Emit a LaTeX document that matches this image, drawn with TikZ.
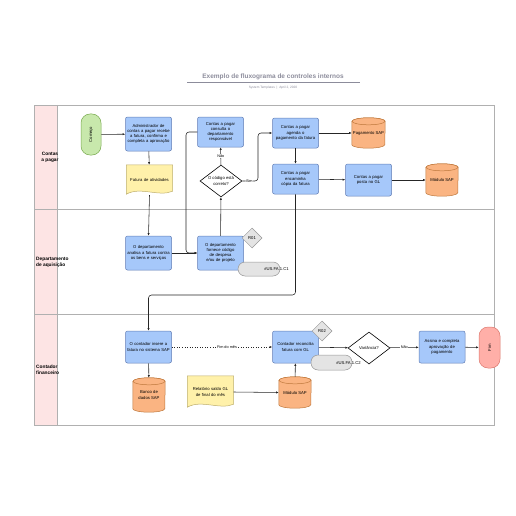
\documentclass[tikz,border=0pt]{standalone}
\usepackage{fontspec}
\setmainfont{Liberation Sans}
\usetikzlibrary{arrows.meta,backgrounds,calc,shapes.geometric}
\hyphenpenalty=10000
\exhyphenpenalty=10000
\definecolor{lanepink}{RGB}{253,228,228}
\definecolor{laneborder}{RGB}{176,176,176}
\definecolor{bluefill}{RGB}{166,200,250}
\definecolor{blueline}{RGB}{96,124,180}
\definecolor{greenfill}{RGB}{200,232,172}
\definecolor{greenline}{RGB}{122,170,80}
\definecolor{docfill}{RGB}{255,241,170}
\definecolor{docline}{RGB}{190,175,110}
\definecolor{cylfillc}{RGB}{250,180,130}
\definecolor{cylline}{RGB}{190,120,60}
\definecolor{endfill}{RGB}{255,175,168}
\definecolor{endline}{RGB}{220,120,110}
\definecolor{tagfill}{RGB}{228,228,228}
\definecolor{tagline}{RGB}{150,150,150}
\definecolor{titlegray}{RGB}{140,140,155}
\tikzset{
  every node/.style={font=\fontsize{4.2}{5.1}\selectfont, inner sep=1pt},
  proc/.style={draw=blueline, fill=bluefill, rounded corners=2pt, line width=0.5pt,
    minimum width=45pt, minimum height=32pt, text width=44pt, align=center},
  term/.style={draw=greenline, fill=greenfill, rounded corners=9pt, line width=0.5pt,
    minimum width=20pt, minimum height=41pt},
  endterm/.style={draw=endline, fill=endfill, rounded corners=9pt, line width=0.5pt,
    minimum width=21pt, minimum height=41pt},
  dec/.style={diamond, draw=black, fill=white, line width=0.6pt, aspect=1.35,
    minimum width=42pt, minimum height=32pt, inner sep=0pt, align=center},
  risk/.style={diamond, draw=tagline, fill=tagfill, line width=0.5pt,
    minimum width=20pt, minimum height=20pt, inner sep=0pt},
  tagbox/.style={draw=tagline, fill=tagfill, rounded corners=7pt, line width=0.5pt,
    minimum width=42pt, minimum height=14pt},
  txt/.style={align=center, text width=44pt},
  docstyle/.style={draw=docline, fill=docfill, line width=0.5pt},
  cylstyle/.style={draw=cylline, fill=cylfillc, line width=0.5pt},
  conn/.style={draw=black!85, line width=0.55pt, -{Latex[length=2.6pt,width=2.2pt]}},
  lbl/.style={fill=white, inner sep=0.5pt, font=\fontsize{3.8}{4.5}\selectfont},
  lane/.style={draw=laneborder, line width=0.6pt},
}
\newcommand{\docpath}[1]{%
  \path[docstyle] (#1.north west) -- (#1.north east) -- ([yshift=4pt]#1.south east)
    .. controls ([xshift=-14pt,yshift=-2pt]#1.south east) and ([xshift=14pt,yshift=9pt]#1.south west)
    .. ([yshift=1pt]#1.south west) -- cycle;}
\newcommand{\cylpath}[2]{%
  \path[cylstyle] ([yshift=-3.5pt]#1.north west) -- ([yshift=3.5pt]#1.south west)
    arc[start angle=180,end angle=360,x radius=#2,y radius=3.5pt]
    -- ([yshift=-3.5pt]#1.north east)
    arc[start angle=0,end angle=180,x radius=#2,y radius=3.5pt] -- cycle;
  \draw[cylstyle] ([yshift=-3.5pt]#1.north) ellipse[x radius=#2,y radius=3.5pt];}
\begin{document}
\begin{tikzpicture}[x=1pt,y=-1pt]
\useasboundingbox (0,0) rectangle (516,516);
% title
\node[font=\fontsize{6.5}{7}\selectfont\bfseries, text=titlegray] (title) at (273,77) {Exemplo de fluxograma de controles internos};
\draw[titlegray, line width=0.6pt] (187,82.5) -- (360,82.5);
\node[font=\fontsize{3.2}{4}\selectfont, text=titlegray] (sub) at (273,87.5) {System Templates \ | \ April 2, 2020};
% lanes
\fill[lanepink] (34,105) rectangle (57,425);
\draw[lane] (34,105) rectangle (494,425);
\draw[lane] (57,105) -- (57,425);
\draw[lane] (34,209.5) -- (494,209.5);
\draw[lane] (34,314.5) -- (494,314.5);
\node[font=\fontsize{4.8}{5.8}\selectfont\bfseries, align=center] (l1) at (50,157) {Contas\\a pagar};
\node[font=\fontsize{4.8}{5.8}\selectfont\bfseries, align=left, anchor=west] (l2) at (35,262) {Departamento\\de aquisição};
\node[font=\fontsize{4.8}{5.8}\selectfont\bfseries, align=left, anchor=west] (l3) at (35,370) {Contador\\financeiro};
% lane 1
\node[term] (start) at (91,134.5) {};
\node[rotate=90] at (start) {Começo};
\node[proc, minimum height=34pt] (admin) at (148.5,134) {Administrador de contas a pagar recebe a fatura, confirma e completa a aprovação};
\node[txt, minimum width=45pt, minimum height=30pt] (fatura) at (149.5,180) {Fatura de atividades};
\begin{scope}[on background layer]\docpath{fatura}\end{scope}
\node[proc, minimum height=30pt] (consulta) at (220.5,132) {Contas a pagar consulta o departamento responsável};
\node[dec] (codigo) at (221,181) {O código está\\correto?};
\node[proc, minimum height=30pt] (agenda) at (295.5,133) {Contas a pagar agenda o pagamento da fatura};
\node[minimum width=33pt, minimum height=30pt] (pagsap) at (368.5,133) {\raisebox{-4pt}{Pagamento SAP}};
\begin{scope}[on background layer]\cylpath{pagsap}{16.5pt}\end{scope}
\node[proc, minimum height=30pt] (encaminha) at (295.5,179) {Contas a pagar encaminha cópia da fatura};
\node[proc, minimum height=32pt] (posta) at (368.5,180) {Contas a pagar posta no GL};
\node[minimum width=32pt, minimum height=32pt] (mod1) at (442,180) {\raisebox{-4pt}{Módulo SAP}};
\begin{scope}[on background layer]\cylpath{mod1}{16pt}\end{scope}
% lane 2
\node[proc, minimum height=34pt] (analisa) at (148.5,253) {O departamento analisa a fatura contra os bens e serviços};
\node[proc, minimum height=34pt] (fornece) at (220.5,253) {O departamento fornece código de despesa e/ou de projeto};
\node[risk] (r01) at (252,238) {R01};
\node[tagbox] (c1box) at (259,269) {};
\node[anchor=east] (c1) at (290,269.5) {\#US.FA.1.C1};
% lane 3
\node[proc, minimum height=32pt] (insere) at (148.5,347) {O contador insere a fatura no sistema SAP};
\node[minimum width=32pt, minimum height=34pt] (banco) at (149,395) {\raisebox{-4pt}{\shortstack{Banco de\\dados SAP}}};
\begin{scope}[on background layer]\cylpath{banco}{16pt}\end{scope}
\node[txt, minimum width=43pt, minimum height=32pt] (relat) at (210.5,392) {Relatório saldo GL\\de final do mês};
\begin{scope}[on background layer]\docpath{relat}\end{scope}
\node[proc, minimum height=32pt] (reconc) at (295.5,347) {Contador reconcilia fatura com GL};
\node[risk] (r02) at (322,331) {R02};
\node[tagbox, minimum width=41pt, minimum height=15pt] (c2box) at (331.5,362.5) {};
\node[anchor=east] (c2) at (362,363) {\#US.FA.1.C2};
\node[minimum width=32pt, minimum height=31pt] (mod2) at (295,392.5) {\raisebox{-4pt}{Módulo SAP}};
\begin{scope}[on background layer]\cylpath{mod2}{16pt}\end{scope}
\node[dec] (varia) at (369,348) {Variância?};
\node[proc, minimum width=44pt, minimum height=32pt] (assina) at (442,347) {Assina e completa aprovação de pagamento};
\node[endterm] (fim) at (489.5,347.5) {};
\node[rotate=90] at (fim) {Fim};
% connectors
\draw[conn] (start) -- (admin);
\draw[conn] (admin) -- (fatura);
\draw[conn] (fatura.south) -- (analisa.north);
\draw[conn] (analisa) -- (fornece);
\draw[conn] (fornece) -- (codigo);
\draw[conn] (codigo) -- node[lbl]{Não} (consulta);
\draw[conn, rounded corners=3pt] (consulta.west) -- (186,132) -- (186,253) -- (fornece.west);
\draw[conn, rounded corners=3pt] (codigo.east) -- node[lbl, pos=0.45]{Sim} (258,181) -- (258,133) -- (agenda.west);
\draw[conn] (agenda) -- (pagsap);
\draw[conn] (agenda) -- (encaminha);
\draw[conn] (encaminha) -- (posta);
\draw[conn] (posta) -- (mod1);
\draw[conn, rounded corners=3pt] (encaminha.south) -- (295.5,295) -- (148.5,295) -- (insere.north);
\draw[conn] (insere) -- (banco);
\draw[conn, dotted] (insere) -- node[lbl, pos=0.55]{Fim do mês} (reconc);
\draw[conn] (relat.east) -- (mod2.west);
\draw[conn] (mod2) -- (reconc);
\draw[conn] (reconc) -- (varia);
\draw[conn] (varia) -- node[lbl]{Não} (assina);
\draw[conn] (assina) -- (fim);
\end{tikzpicture}
\end{document}
